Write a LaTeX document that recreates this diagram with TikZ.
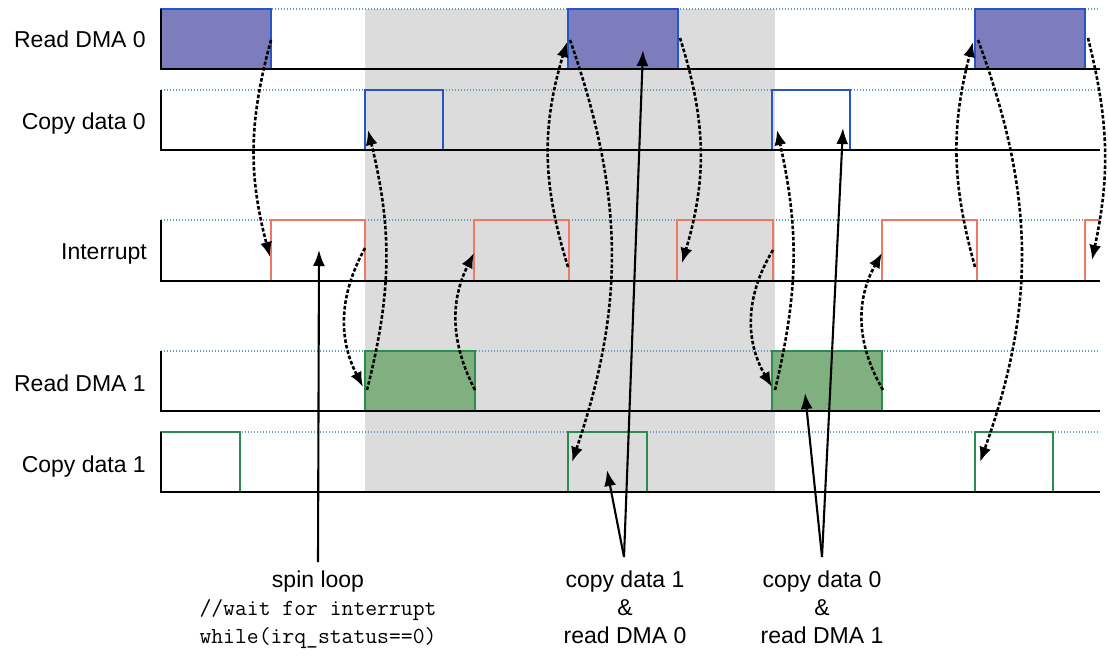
\documentclass[tikz,border=0pt]{standalone}
\usepackage{fontspec}
\setmainfont{Liberation Sans}
\usetikzlibrary{arrows.meta}
\definecolor{dmablue}{HTML}{7D7DBE}
\definecolor{edgeblue}{HTML}{2555C8}
\definecolor{irqred}{HTML}{F07860}
\definecolor{dmagreen}{HTML}{80B080}
\definecolor{edgegreen}{HTML}{2A8C50}
\definecolor{bggray}{HTML}{DCDCDC}
\definecolor{dotblue}{HTML}{6A9AB5}
\begin{document}
\begin{tikzpicture}[x=1pt,y=-1pt,
  axis/.style={line width=2.4pt,black},
  topline/.style={line width=1.4pt,dotblue,dash pattern=on 1.4pt off 1.6pt},
  pulseA/.style={draw=edgeblue,fill=dmablue,line width=2.3pt},
  pulseB/.style={draw=edgeblue,line width=2.3pt},
  pulseI/.style={draw=irqred,line width=2.6pt},
  pulseC/.style={draw=edgegreen,fill=dmagreen,line width=2.3pt},
  pulseD/.style={draw=edgegreen,line width=2.3pt},
  dep/.style={line width=2.6pt,dash pattern=on 3.6pt off 2pt,-{Latex[length=15pt,width=12pt]}},
  ptr/.style={line width=2.1pt,-{Latex[length=16pt,width=12pt]}},
  rowlab/.style={anchor=base east,inner sep=0pt,font=\fontsize{23}{28}\selectfont},
  note/.style={anchor=north,inner sep=0pt,align=center,font=\fontsize{23}{28}\selectfont}]
\useasboundingbox (0,0) rectangle (1108,660);
\fill[white] (0,0) rectangle (1108,660);
% shaded interval
\fill[bggray] (365,9) rectangle (775,492);
% dotted high levels
\foreach \t in {9,90,220,351,432} \draw[topline] (161,\t) -- (1100,\t);
% Read DMA 0
\path[pulseA] (161,69) |- (271,9) -- (271,69);
\path[pulseA] (568,69) |- (678,9) -- (678,69);
\path[pulseA] (975,69) |- (1085,9) -- (1085,69);
% Copy data 0
\path[pulseB] (365,150) |- (443,90) -- (443,150);
\path[pulseB] (772,150) |- (850,90) -- (850,150);
% Interrupt
\path[pulseI] (271,281) |- (365,220) -- (365,281);
\path[pulseI] (474,281) |- (569,220) -- (569,281);
\path[pulseI] (677,281) |- (773,220) -- (773,281);
\path[pulseI] (882,281) |- (977,220) -- (977,281);
\path[pulseI] (1085,281) |- (1100,220);
% Read DMA 1
\path[pulseC] (365,411) |- (475,351) -- (475,411);
\path[pulseC] (772,411) |- (882,351) -- (882,411);
% Copy data 1
\path[pulseD] (161,492) |- (240,432) -- (240,492);
\path[pulseD] (568,492) |- (647,432) -- (647,492);
\path[pulseD] (975,492) |- (1053,432) -- (1053,492);
% axes
\draw[axis] (161,9) -- (161,69) -- (1100,69);
\draw[axis] (161,90) -- (161,150) -- (1100,150);
\draw[axis] (161,220) -- (161,281) -- (1100,281);
\draw[axis] (161,351) -- (161,411) -- (1100,411);
\draw[axis] (161,432) -- (161,492) -- (1100,492);
% row labels
\node[rowlab] (r0) at (146,48) {Read DMA 0};
\node[rowlab] (c0) at (146,130) {Copy data 0};
\node[rowlab] (irq) at (147,260) {Interrupt};
\node[rowlab] (r1) at (146,391) {Read DMA 1};
\node[rowlab] (c1) at (146,472) {Copy data 1};
% event points
\coordinate (q1) at (271,40);  \coordinate (q2) at (270,257);
\coordinate (a1) at (365,248); \coordinate (a2) at (363,387);
\coordinate (b1) at (367,390); \coordinate (b2) at (368,130);
\coordinate (c1s) at (475,390); \coordinate (c2s) at (474,253);
\coordinate (d1) at (568,267); \coordinate (d2) at (567,42);
\coordinate (e1) at (570,40);  \coordinate (e2) at (572,462);
\coordinate (f1) at (680,38);  \coordinate (f2) at (682,263);
\coordinate (i1) at (773,250); \coordinate (i2) at (772,387);
\coordinate (j1) at (775,390); \coordinate (j2) at (777,130);
\coordinate (k1) at (883,390); \coordinate (k2) at (882,253);
\coordinate (n1) at (975,267); \coordinate (n2) at (973,42);
\coordinate (o1) at (978,40);  \coordinate (o2) at (980,462);
\coordinate (p1) at (1088,38); \coordinate (p2) at (1092,260);
% dependency arrows
\draw[dep] (q1) to[bend right=15] (q2);
\draw[dep] (a1) to[bend right=28] (a2);
\draw[dep] (b1) to[bend right=14] (b2);
\draw[dep] (c1s) to[bend left=27] (c2s);
\draw[dep] (d1) to[bend left=17] (d2);
\draw[dep] (e1) to[bend left=19] (e2);
\draw[dep] (f1) to[bend left=17] (f2);
\draw[dep] (i1) to[bend right=31] (i2);
\draw[dep] (j1) to[bend right=13] (j2);
\draw[dep] (k1) to[bend left=30] (k2);
\draw[dep] (n1) to[bend left=15] (n2);
\draw[dep] (o1) to[bend left=20] (o2);
\draw[dep] (p1) to[bend left=13] (p2);
% notes
\node[note] (spin) at (318,571) {spin loop\\\texttt{//wait for interrupt}\\\texttt{while(irq\_status==0)}};
\node[note] (cd1) at (625,571) {copy data 1\\\&\\read DMA 0};
\node[note] (cd0) at (822,571) {copy data 0\\\&\\read DMA 1};
\coordinate (spint) at (319,250);
\coordinate (g2) at (643,50);
\coordinate (h2) at (607,470);
\coordinate (l2) at (843,128);
\coordinate (m2) at (805,393);
\draw[ptr] ([yshift=9pt]spin.north) -- (spint);
\draw[ptr] ([xshift=-1pt,yshift=14pt]cd1.north) -- (g2);
\draw[ptr] ([xshift=-1pt,yshift=14pt]cd1.north) -- (h2);
\draw[ptr] ([yshift=14pt]cd0.north) -- (l2);
\draw[ptr] ([yshift=14pt]cd0.north) -- (m2);
\end{tikzpicture}
\end{document}
